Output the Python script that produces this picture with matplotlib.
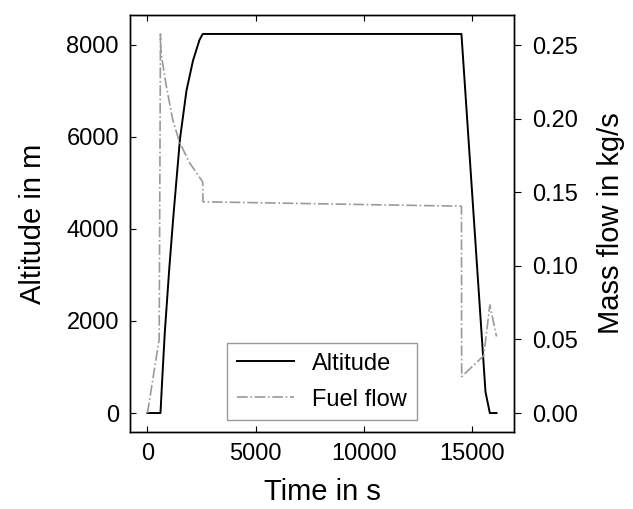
import numpy as np
import matplotlib.pyplot as plt

plt.rcParams['font.family'] = ['Liberation Sans', 'DejaVu Sans']

# altitude profile (time in s, altitude in m)
alt_time = [0, 600, 700, 800, 1000, 1200, 1500, 1800, 2100, 2400, 2550,
            14490, 15600, 15800, 16110]
altitude = [0, 0, 900, 1750, 3100, 4300, 5950, 7000, 7650, 8100, 8230,
            8230, 460, 0, 0]

# fuel mass flow (time in s, kg/s)
fuel_time = [0, 540, 600, 620, 870, 1170, 1480, 1940, 2550, 2560,
             14490, 14500, 15520, 15800, 16110]
fuel_flow = [0, 0.05, 0.2575, 0.245, 0.222, 0.199, 0.184, 0.170, 0.157, 0.1435,
             0.1405, 0.0247, 0.039, 0.0734, 0.052]

fig = plt.figure(figsize=(6.33, 5.09), dpi=100)
ax = fig.add_axes([0.2054, 0.1513, 0.6066, 0.8192])
ax2 = ax.twinx()

l1, = ax.plot(alt_time, altitude, color='black', lw=1.4, label='Altitude')
l2, = ax2.plot(fuel_time, fuel_flow, color='#9a9a9a', lw=1.2, ls='-.', label='Fuel flow')

ax.set_xlabel('Time in s', fontsize=21, labelpad=9)
ax.set_ylabel('Altitude in m', fontsize=21, labelpad=14)
ax2.set_ylabel('Mass flow in kg/s', fontsize=21, labelpad=14)

ax.set_xticks([0, 5000, 10000, 15000])
ax.set_yticks([0, 2000, 4000, 6000, 8000])
ax2.set_yticks([0, 0.05, 0.10, 0.15, 0.20, 0.25])
ax2.set_yticklabels(['0.00', '0.05', '0.10', '0.15', '0.20', '0.25'])

ax.tick_params(direction='in', top=True, labelsize=17, length=4, pad=8)
ax2.tick_params(direction='out', labelsize=17, length=5, pad=8)
for a in (ax, ax2):
    for s in a.spines.values():
        s.set_linewidth(1.0)

leg = ax.legend([l1, l2], ['Altitude', 'Fuel flow'], loc='lower center',
                fontsize=17, fancybox=False, handlelength=2.4, framealpha=1,
                labelspacing=0.6, borderaxespad=0.5)
leg.get_frame().set_edgecolor('#999999')

fig.savefig('out.png', dpi=100)
